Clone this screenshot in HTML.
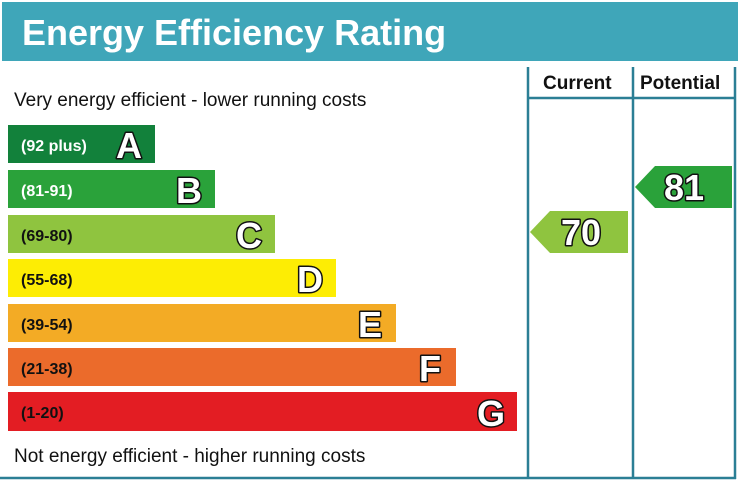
<!DOCTYPE html>
<html><head><style>
body{margin:0;background:#fff;width:738px;height:483px;overflow:hidden}
</style></head><body>
<svg width="738" height="483" xmlns="http://www.w3.org/2000/svg" font-family="Liberation Sans, Arial, sans-serif">
<rect x="2" y="2" width="736" height="59" fill="#3fa6b9"/>
<text x="22" y="45" font-size="36" font-weight="bold" fill="#fff">Energy Efficiency Rating</text>
<g stroke="#2b7f95" stroke-width="2.5" fill="none">
<line x1="528" y1="67" x2="528" y2="479"/>
<line x1="633" y1="67" x2="633" y2="479"/>
<line x1="735" y1="67" x2="735" y2="479"/>
<line x1="528" y1="98" x2="735" y2="98"/>
<line x1="0" y1="478" x2="736" y2="478"/>
</g>
<text x="543" y="89" font-size="19" font-weight="bold" fill="#111">Current</text>
<text x="640" y="89" font-size="19" font-weight="bold" fill="#111">Potential</text>
<text x="14" y="106" font-size="19" fill="#111">Very energy efficient - lower running costs</text>
<text x="14" y="462" font-size="19" fill="#111">Not energy efficient - higher running costs</text>
<g font-weight="bold">
<rect x="8" y="125" width="147" height="38" fill="#12813b"/>
<rect x="8" y="170" width="207" height="38" fill="#2aa23a"/>
<rect x="8" y="215" width="267" height="38" fill="#8fc43f"/>
<rect x="8" y="259" width="328" height="38" fill="#fded04"/>
<rect x="8" y="304" width="388" height="38" fill="#f3ab25"/>
<rect x="8" y="348" width="448" height="38" fill="#eb6b2b"/>
<rect x="8" y="392" width="509" height="39" fill="#e31d23"/>
<g font-size="16">
<text x="21" y="151" fill="#fff">(92 plus)</text>
<text x="21" y="196" fill="#fff">(81-91)</text>
<text x="21" y="241" fill="#111">(69-80)</text>
<text x="21" y="285" fill="#111">(55-68)</text>
<text x="21" y="330" fill="#111">(39-54)</text>
<text x="21" y="374" fill="#111">(21-38)</text>
<text x="21" y="418" fill="#111">(1-20)</text>
</g>
<g font-size="36" font-weight="bold" fill="#fff" stroke="#111" stroke-width="3" paint-order="stroke" stroke-linejoin="round" text-anchor="middle">
<text x="129" y="158">A</text>
<text x="189" y="203">B</text>
<text x="249" y="248">C</text>
<text x="310" y="292">D</text>
<text x="370" y="337">E</text>
<text x="430" y="381">F</text>
<text x="491" y="426">G</text>
</g>
<polygon points="530,232 550,211 628,211 628,253 550,253" fill="#8fc43f"/>
<polygon points="635,187 655,166 732,166 732,208 655,208" fill="#2aa23a"/>
<g font-size="36" font-weight="bold" fill="#fff" stroke="#111" stroke-width="3" paint-order="stroke" stroke-linejoin="round" text-anchor="middle">
<text x="581" y="245">70</text>
<text x="684" y="200">81</text>
</g>
</g>
</svg>
</body></html>
